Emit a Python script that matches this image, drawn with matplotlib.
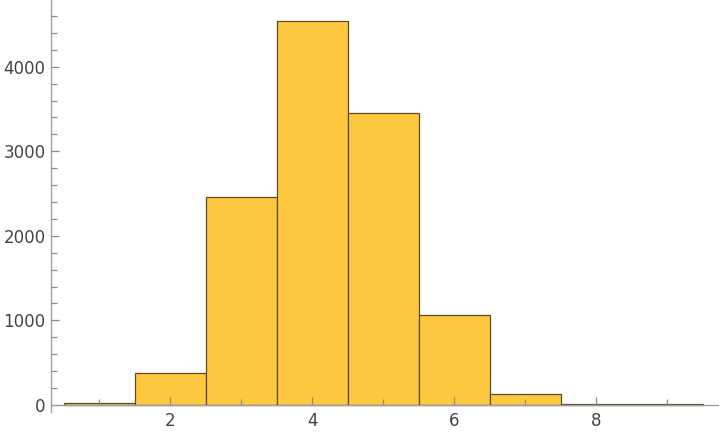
import matplotlib.pyplot as plt
from matplotlib.ticker import MultipleLocator

# histogram bins (unit width, centred on integers) and counts
bin_centers = [1, 2, 3, 4, 5, 6, 7, 8, 9]
counts = [22, 378, 2462, 4546, 3458, 1066, 130, 8, 5]

fig = plt.figure(figsize=(7.2, 4.36), dpi=100)
ax = fig.add_axes([0.0708, 0.054, 0.927, 0.946])

ax.bar(bin_centers, counts, width=1.0, color='#fec940', edgecolor='#5b4a26',
       linewidth=0.9, zorder=1)

ax.set_xlim(0.32, 9.72)
ax.set_ylim(-90, 4790)

ax.spines['top'].set_visible(False)
ax.spines['right'].set_visible(False)
ax.spines['bottom'].set_position(('data', 0))
for s in ('left', 'bottom'):
    ax.spines[s].set_color('#a0a0a0')
    ax.spines[s].set_linewidth(1.0)
    ax.spines[s].set_zorder(3)

ax.xaxis.set_major_locator(MultipleLocator(2))
ax.xaxis.set_minor_locator(MultipleLocator(1))
ax.yaxis.set_major_locator(MultipleLocator(1000))
ax.yaxis.set_minor_locator(MultipleLocator(200))
ax.set_xticks([2, 4, 6, 8])

ax.tick_params(axis='x', which='major', direction='in', length=6, width=0.9,
               color='#8a8a8a', labelsize=12, labelcolor='#444444', pad=5)
ax.tick_params(axis='x', which='minor', direction='in', length=4, width=0.9,
               color='#8a8a8a')
ax.tick_params(axis='y', which='major', direction='in', length=6, width=0.9,
               color='#8a8a8a', labelsize=12, labelcolor='#444444', pad=4)
ax.tick_params(axis='y', which='minor', direction='in', length=4, width=0.9,
               color='#8a8a8a')

plt.savefig('out.png', dpi=100)
